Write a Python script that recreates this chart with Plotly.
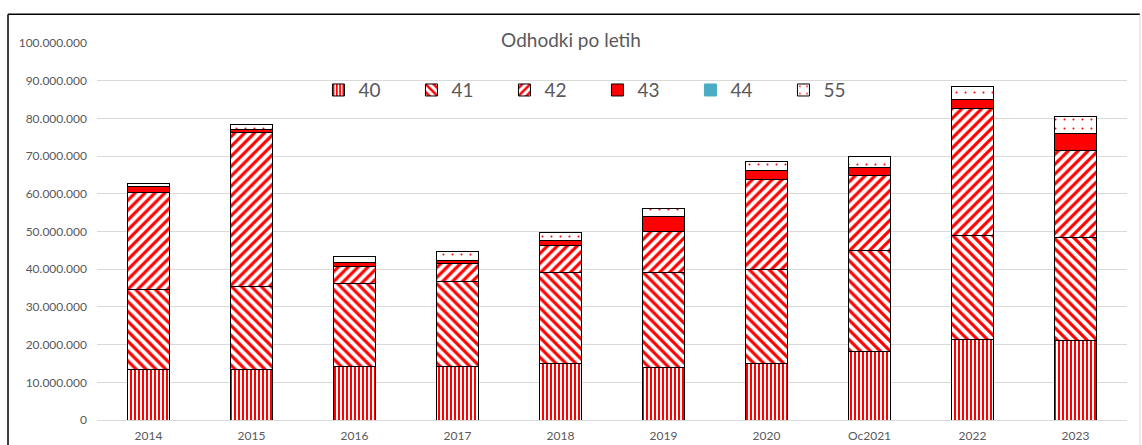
import plotly.graph_objects as go

# Data (values in EUR)
years = ['2014', '2015', '2016', '2017', '2018', '2019', '2020', 'Oc2021', '2022', '2023']
konto_40 = [13.5e6, 13.5e6, 14.2e6, 14.1e6, 15.0e6, 13.9e6, 15.0e6, 18.1e6, 21.4e6, 21.1e6]
konto_41 = [21.0e6, 22.0e6, 21.9e6, 22.6e6, 24.1e6, 25.3e6, 25.0e6, 26.8e6, 27.5e6, 27.4e6]
konto_42 = [25.8e6, 40.7e6, 4.6e6, 4.9e6, 7.2e6, 10.7e6, 23.7e6, 20.0e6, 33.7e6, 22.9e6]
konto_43 = [1.6e6, 0.9e6, 1.1e6, 0.6e6, 1.3e6, 4.2e6, 2.4e6, 2.2e6, 2.5e6, 4.5e6]
konto_44 = [0, 0, 0, 0, 0, 0, 0, 0, 0, 0]
konto_55 = [0.9e6, 1.3e6, 1.5e6, 2.4e6, 2.2e6, 2.1e6, 2.6e6, 2.8e6, 3.3e6, 4.6e6]

grey_text = '#595959'
red = '#ff0000'
font_name = 'Lato, Carlito, Liberation Sans, sans-serif'

series = [
    ('40', konto_40, dict(shape='|', size=4, solidity=0.5, fgcolor=red, bgcolor='white', fgopacity=1)),
    ('41', konto_41, dict(shape='\\', size=7, solidity=0.45, fgcolor=red, bgcolor='white', fgopacity=1)),
    ('42', konto_42, dict(shape='/', size=7, solidity=0.45, fgcolor=red, bgcolor='white', fgopacity=1)),
    ('43', konto_43, None),
    ('44', konto_44, None),
    ('55', konto_55, dict(shape='.', size=9, solidity=0.04, fgcolor=red, bgcolor='white', fgopacity=1)),
]
solid_colors = {'43': red, '44': '#4bacc6'}

fig = go.Figure()
for name, vals, patt in series:
    if patt is None:
        marker = dict(color=solid_colors[name],
                      line=dict(color='black' if name != '44' else '#4bacc6', width=1))
    else:
        marker = dict(color='white', pattern=patt, line=dict(color='black', width=1))
    fig.add_trace(go.Bar(x=years, y=vals, name=name, marker=marker))

# chart frame (left / top black, right light grey)
fig.add_shape(type='line', xref='paper', yref='paper', x0=-0.0864, x1=-0.0864, y0=-0.1, y1=1.076,
              line=dict(color='black', width=1.5))
fig.add_shape(type='line', xref='paper', yref='paper', x0=-0.0864, x1=1.0126, y0=1.076, y1=1.076,
              line=dict(color='black', width=1.5))
fig.add_shape(type='line', xref='paper', yref='paper', x0=1.0126, x1=1.0126, y0=-0.1, y1=1.076,
              line=dict(color='#d9d9d9', width=1))

fig.update_layout(
    barmode='stack',
    bargap=0.59,
    width=1142,
    height=445,
    margin=dict(l=97, r=15, t=43, b=25),
    separators=',.',
    paper_bgcolor='white',
    plot_bgcolor='white',
    font=dict(family=font_name, color=grey_text),
    title=dict(text='Odhodki po letih', x=0.5, xanchor='center', y=0.91, yanchor='middle',
               font=dict(size=19, color=grey_text, family=font_name)),
    legend=dict(orientation='h', x=0.215, xanchor='left', y=0.875, yanchor='middle',
                font=dict(size=19, color=grey_text), entrywidth=48, entrywidthmode='pixels',
                itemwidth=30, traceorder='normal', bgcolor='rgba(0,0,0,0)'),
    showlegend=True,
)
fig.update_yaxes(range=[0, 100e6], dtick=10e6, tickformat=',d', gridcolor='#d9d9d9', gridwidth=1,
                 zeroline=False, showline=False, ticks='', tickfont=dict(size=12, color=grey_text),
                 ticklabelstandoff=9, automargin=False)
fig.update_xaxes(showline=True, linecolor='#d9d9d9', linewidth=1, ticks='',
                 tickfont=dict(size=12, color=grey_text), ticklabelstandoff=5, automargin=False)

fig.write_html('out.html', config={'displayModeBar': False},
               post_script="document.body.style.margin='0';")
